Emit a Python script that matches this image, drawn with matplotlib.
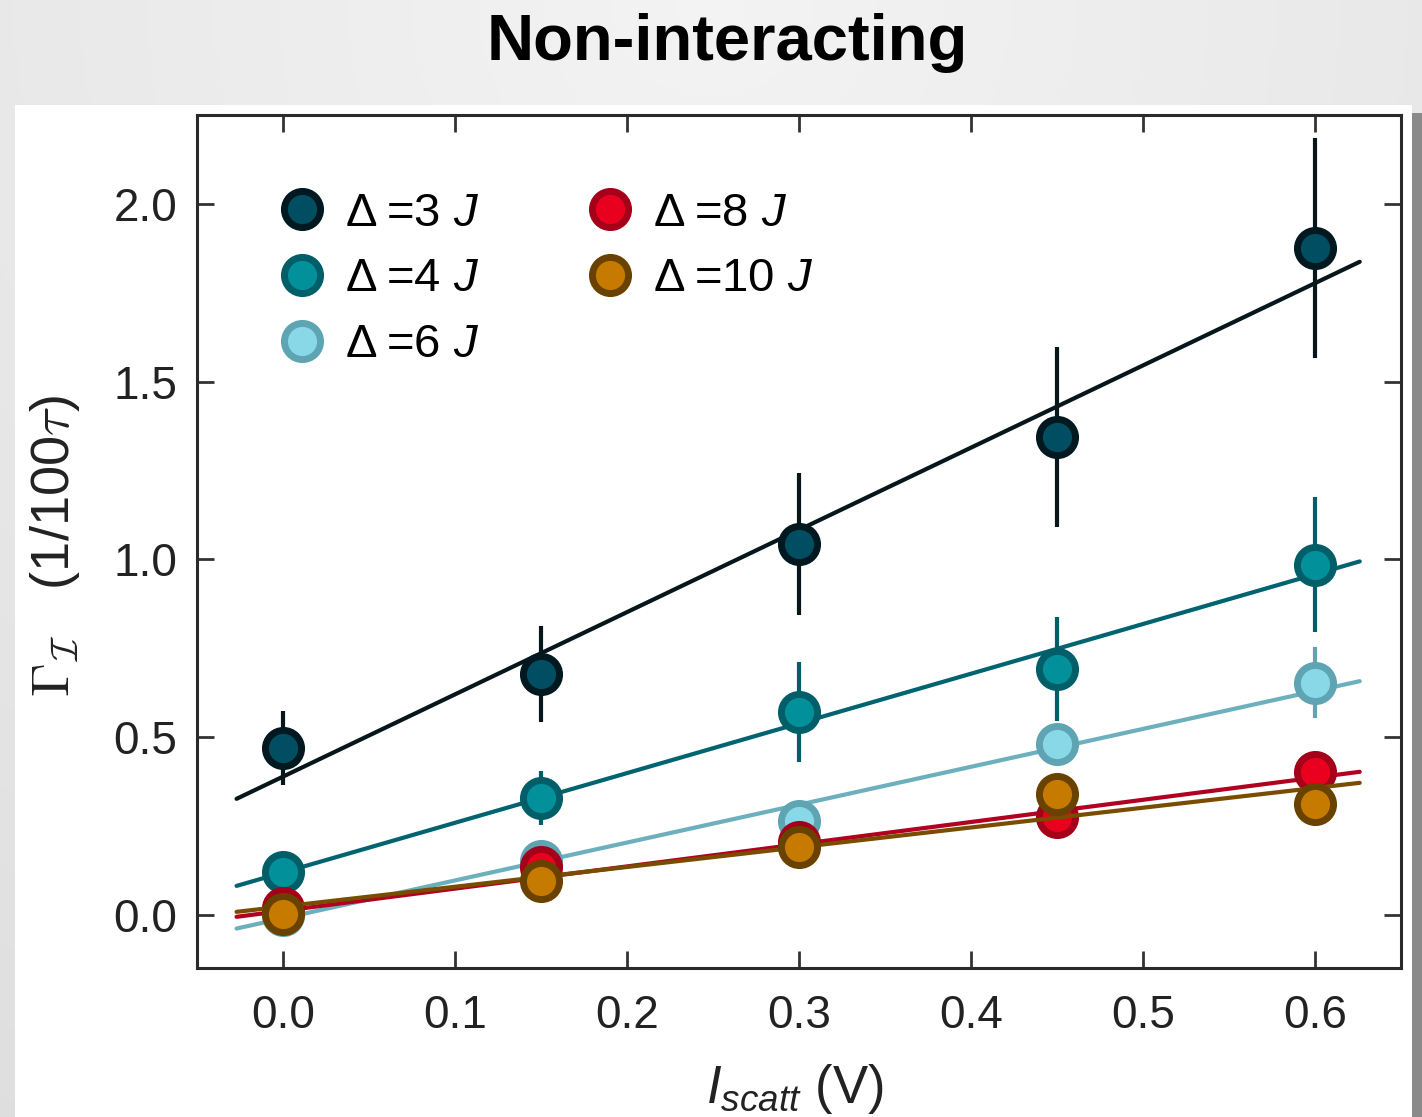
import numpy as np
import matplotlib
matplotlib.use('Agg')
import matplotlib.pyplot as plt
from matplotlib.lines import Line2D
from matplotlib.patches import Rectangle
from matplotlib import font_manager

# ---------------- data ----------------
x_vals = [0.0, 0.15, 0.30, 0.45, 0.60]

y_d3 = [0.469, 0.676, 1.042, 1.343, 1.876]
e_d3 = [0.105, 0.135, 0.200, 0.253, 0.310]

y_d4 = [0.121, 0.328, 0.570, 0.692, 0.985]
e_d4 = [0.030, 0.075, 0.140, 0.146, 0.190]

y_d6 = [0.000, 0.150, 0.264, 0.480, 0.652]
e_d6 = [0.020, 0.030, 0.040, 0.045, 0.100]

y_d8 = [0.018, 0.135, 0.205, 0.275, 0.402]
e_d8 = [0.020, 0.020, 0.030, 0.030, 0.040]

y_d10 = [0.003, 0.096, 0.190, 0.340, 0.312]
e_d10 = [0.020, 0.020, 0.030, 0.030, 0.040]

fit_x = [-0.027, 0.626]
fit_d3 = [0.326, 1.837]
fit_d4 = [0.081, 0.994]
fit_d6 = [-0.039, 0.657]
fit_d8 = [-0.006, 0.402]
fit_d10 = [0.008, 0.371]

labels = ['Δ\u2009=3', 'Δ\u2009=4', 'Δ\u2009=6', 'Δ\u2009=8', 'Δ\u2009=10']
x_ticks = [0.0, 0.1, 0.2, 0.3, 0.4, 0.5, 0.6]
y_ticks = [0.0, 0.5, 1.0, 1.5, 2.0]

# ---------------- styles ----------------
face = ['#014e62', '#02909b', '#88d8e8', '#e9001e', '#c67b00']
edge = ['#00181f', '#005e68', '#5fa4b2', '#a5001a', '#6a4200']
linec = ['#06161b', '#006470', '#6cb0bd', '#b10020', '#7a4c00']

plt.rcParams['font.family'] = ['Liberation Sans', 'DejaVu Sans']
plt.rcParams['mathtext.fontset'] = 'custom'
plt.rcParams['mathtext.rm'] = 'Liberation Sans'
plt.rcParams['mathtext.it'] = 'Liberation Sans:italic'

W, H = 1422, 1117
fig = plt.figure(figsize=(W / 100, H / 100), dpi=100)
fig.patch.set_facecolor('#e9e9e9')

# background gradient
bg = fig.add_axes([0, 0, 1, 1], zorder=-10)
yy, xx = np.mgrid[0:1:200j, 0:1:300j]
r = np.sqrt(((xx - 0.5) * 1.2) ** 2 + ((yy - 0.0) * 1.0) ** 2)
val = 0.955 - 0.07 * r
bg.imshow(np.dstack([val, val, val]), extent=[0, 1, 0, 1], aspect='auto', origin='upper')
bg.set_xlim(0, 1); bg.set_ylim(0, 1)
bg.axis('off')

# white panel + shadow
px0, px1, py0 = 15, 1412, 105
bg.add_patch(Rectangle((px1 / W, 0), (W - px1) / W, 1 - (py0 + 8) / H,
                       transform=bg.transAxes, facecolor='#8a8a8a', edgecolor='none', zorder=1))
bg.add_patch(Rectangle((px0 / W, 0), (px1 - px0) / W, 1 - py0 / H,
                       transform=bg.transAxes, facecolor='white', edgecolor='none', zorder=2))

# title
narrow = [f.name for f in font_manager.fontManager.ttflist if 'Narrow' in f.name]
tfam = ['Liberation Sans Narrow', 'Liberation Sans'] if narrow else ['Liberation Sans']
fig.text(727 / W, 1 - 43 / H, 'Non-interacting', ha='center', va='center',
         fontsize=47, fontweight='bold', family=tfam, color='black')

# main axes
L, R, T, B = 197, 1401, 115, 968
ax = fig.add_axes([L / W, 1 - B / H, (R - L) / W, (B - T) / H])
ax.set_facecolor('none')

ys = [y_d3, y_d4, y_d6, y_d8, y_d10]
es = [e_d3, e_d4, e_d6, e_d8, e_d10]
fits = [fit_d3, fit_d4, fit_d6, fit_d8, fit_d10]
handles = []
MS, MEW = 26, 5
for i in range(5):
    z = 3 + i * 3
    ax.plot(fit_x, fits[i], color=linec[i], lw=3.0, zorder=z, solid_capstyle='round')
    ax.errorbar(x_vals, ys[i], yerr=es[i], fmt='none', ecolor=edge[i] if i != 0 else linec[i],
                elinewidth=3.0, capsize=0, zorder=z + 1)
    ax.plot(x_vals, ys[i], 'o', ms=MS, mfc=face[i], mec=edge[i], mew=MEW, zorder=z + 2)
    handles.append(Line2D([], [], ls='none', marker='o', ms=MS, mfc=face[i], mec=edge[i], mew=MEW))

ax.set_xlim(-0.05, 0.65)
ax.set_ylim(-0.15, 2.25)
ax.set_xticks(x_ticks)
ax.set_yticks(y_ticks)
ax.set_xticklabels([f'{v:.1f}' for v in x_ticks])
ax.set_yticklabels([f'{v:.1f}' for v in y_ticks])
ax.tick_params(direction='in', length=12, width=2.0, color='#333333', labelsize=33,
               labelcolor='#222222', top=True, right=True, pad=14)
ax.tick_params(axis='x', pad=19)
for s in ax.spines.values():
    s.set_linewidth(2.2)
    s.set_color('#2a2a2a')

leg_labels = [lab + ' $J$' for lab in labels]
ax.legend(handles, leg_labels, ncol=2, loc='upper left', bbox_to_anchor=(0.0676, 0.910),
          frameon=False, fontsize=34, handlelength=1.0, handletextpad=0.41,
          labelspacing=0.46, columnspacing=2.28, borderaxespad=0, borderpad=0)

# axis labels
fig.text(55 / W, 1 - 546 / H, r'$\Gamma_{\mathcal{I}}\ \ \ $(1/100$\tau$)', rotation=90,
         ha='center', va='center', fontsize=39, color='#222222', math_fontfamily='cm')
fig.text(795 / W, 1 - 1089 / H, r'$I_{scatt}$ (V)', ha='center', va='center',
         fontsize=38, color='#222222')

fig.savefig('out.png', dpi=100, facecolor=fig.get_facecolor())
